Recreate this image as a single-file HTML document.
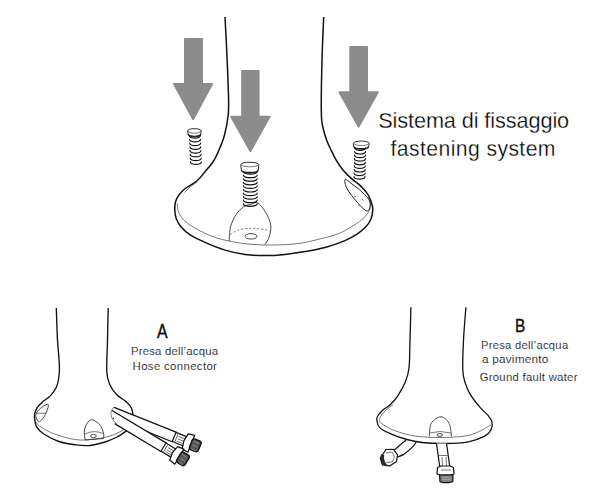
<!DOCTYPE html>
<html><head><meta charset="utf-8"><style>
html,body{margin:0;padding:0;background:#fff;}
body{width:600px;height:495px;overflow:hidden;position:relative;}
svg{position:absolute;left:0;top:0;}
.ol{fill:none;stroke:#111;stroke-width:1.5;stroke-linecap:butt;stroke-linejoin:round;}
.tn{fill:none;stroke:#555;stroke-width:0.8;}
.tn2{fill:none;stroke:#333;stroke-width:0.9;}
.ds{fill:none;stroke:#555;stroke-width:0.8;stroke-dasharray:2 2;}
.ar{fill:#8c8c8c;stroke:#8c8c8c;stroke-width:2;stroke-linejoin:round;}
.sc{fill:#fff;stroke:#222;stroke-width:0.95;}
.th{fill:none;stroke:#111;stroke-width:1.2;stroke-linecap:round;}
.hs{fill:#fff;stroke:#111;stroke-width:1.2;stroke-linejoin:round;}
.hl{fill:none;stroke:#111;stroke-width:1.2;stroke-linecap:round;}
.t{position:absolute;transform-origin:0 0;font-family:"Liberation Sans",sans-serif;color:#161616;white-space:nowrap;line-height:1;}
</style></head><body>
<svg width="600" height="495" viewBox="0 0 600 495">
<rect width="600" height="495" fill="#fff"/>
<path d="M225.0,17.0 C225.3,22.5 226.1,37.0 226.7,50.0 C227.3,63.0 228.2,84.2 228.5,95.0 C228.8,105.8 228.9,108.3 228.2,115.0 C227.5,121.7 226.0,129.2 224.5,135.0 C223.0,140.8 220.9,145.5 219.0,150.0 C217.1,154.5 215.2,158.6 213.0,162.0 C210.8,165.4 208.6,167.4 206.0,170.5 C203.4,173.6 200.8,177.5 197.4,180.5 C194.0,183.5 188.4,186.1 185.3,188.5 C182.2,190.9 180.5,192.8 178.9,195.0 C177.3,197.2 176.2,199.6 175.5,202.0 C174.8,204.4 174.7,207.0 174.8,209.7 C174.9,212.4 175.1,215.4 176.1,218.2 C177.1,221.0 178.5,223.9 180.9,226.7 C183.3,229.5 186.6,232.6 190.6,235.2 C194.6,237.8 199.3,239.9 205.0,242.4 C210.7,244.9 218.3,248.1 225.0,250.1 C231.7,252.1 238.3,253.5 245.0,254.4 C251.7,255.3 258.3,255.6 265.0,255.6 C271.7,255.6 278.3,255.1 285.0,254.4 C291.7,253.7 298.3,252.8 305.0,251.6 C311.7,250.4 318.3,249.3 325.0,247.5 C331.7,245.7 339.7,242.8 345.0,240.6 C350.3,238.4 353.5,236.5 357.0,234.2 C360.5,231.8 363.8,229.0 366.1,226.5 C368.4,224.0 369.8,221.8 370.9,219.2 C372.0,216.6 372.5,213.2 372.7,210.8 C372.9,208.4 372.8,207.2 372.1,204.7 C371.4,202.1 369.9,198.0 368.5,195.5 C367.1,193.0 365.6,191.3 364.0,189.5 C362.4,187.7 361.0,186.2 358.9,184.4 C356.8,182.6 353.9,180.8 351.3,178.4 C348.7,176.1 345.7,173.3 343.2,170.3 C340.7,167.3 338.2,163.6 336.2,160.2 C334.2,156.8 332.7,153.5 331.1,150.1 C329.5,146.7 328.1,144.2 326.6,140.0 C325.2,135.8 323.3,130.0 322.4,125.0 C321.5,120.0 321.4,120.8 321.3,110.0 C321.2,99.2 321.6,75.5 322.0,60.0 C322.4,44.5 323.4,24.2 323.7,17.0" class="ol"/>
<path d="M177.3,203.6 C177.5,205.0 177.3,209.3 178.5,212.1 C179.7,214.9 181.5,217.8 184.5,220.6 C187.5,223.4 192.0,226.5 196.7,229.1 C201.3,231.7 207.3,234.5 212.4,236.4 C217.5,238.3 220.7,239.3 227.0,240.6 C233.3,241.9 242.0,243.5 250.0,244.2 C258.0,244.9 266.7,245.2 275.0,245.0 C283.3,244.8 292.2,244.4 300.0,243.3 C307.8,242.2 315.3,240.1 321.7,238.5 C328.1,236.9 332.8,236.0 338.2,233.8 C343.6,231.6 349.7,227.9 353.9,225.3 C358.1,222.7 361.2,220.2 363.6,218.0 C366.0,215.8 367.4,214.0 368.5,212.0 C369.6,210.0 370.3,208.3 370.3,205.9 C370.3,203.5 368.8,198.8 368.5,197.4" class="tn"/>
<path d="M197,182 Q190,186 184.5,192.5" class="tn"/>
<path d="M345.0,179.4 C344.2,180.2 345.2,185.1 347.2,188.9 C349.2,192.7 353.9,198.5 357.2,202.2 C360.5,205.9 365.0,211.1 367.2,211.1 C369.4,211.1 371.1,205.2 370.2,202.0 C369.3,198.8 365.0,195.0 362.0,192.0 C359.0,189.0 354.8,186.1 352.0,184.0 C349.2,181.9 345.8,178.6 345.0,179.4Z" fill="none" stroke="#222" stroke-width="1"/>
<path d="M354,196 L356,197 M362,199 L364,201 M358,205 L361,207" class="ds"/>
<path d="M229.2,241.0 C229.4,238.6 229.5,230.8 230.7,226.4 C231.9,222.0 234.0,217.7 236.2,214.4 C238.4,211.1 241.4,208.3 243.8,206.7 C246.2,205.0 248.1,205.1 250.5,204.5 C252.9,203.9 255.3,201.3 258.0,203.0 C260.7,204.7 264.7,210.6 266.8,214.4 C268.9,218.2 270.4,222.2 270.8,226.0 C271.2,229.8 270.0,234.2 269.0,237.3 C268.0,240.4 265.7,243.3 265.0,244.5" class="tn2"/>
<path d="M230.5,234.5 C236,230 243,228.3 250,228.3 C258,228.3 264,229 269.5,231" class="ds"/>
<ellipse cx="251" cy="236.3" rx="6" ry="2.7" class="tn2"/>
<path d="M185.0,39.0 L202.0,39.0 L202.0,84.0 L212.1,84.0 L193.1,118.9 L174.0,84.0 L185.0,84.0 Z" class="ar"/>
<path d="M242.2,71.0 L258.6,71.0 L258.6,116.8 L269.6,116.8 L250.4,150.9 L231.2,116.8 L242.2,116.8 Z" class="ar"/>
<path d="M350.3,47.0 L367.0,47.0 L367.0,92.2 L377.8,92.2 L358.6,126.6 L339.5,92.2 L350.3,92.2 Z" class="ar"/>
<path d="M187.6,131.0 C187.6,127.9 201.2,127.9 201.2,131.0 L200.6,134.6 C200.6,137.7 188.2,137.7 188.2,134.6 Z" class="sc"/>
<path d="M188.1,131.0 C188.6,133.9 200.2,133.9 200.7,131.0" class="tn"/>
<path d="M188.4,134.1 C188.6,137.0 200.2,137.0 200.4,134.1" fill="none" stroke="#111" stroke-width="1.1"/>
<path d="M189.3,135.5 C189.2,139.0 200.5,139.0 200.3,135.5" class="th"/>
<path d="M189.5,139.3 C189.3,142.7 200.7,142.7 200.5,139.3" class="th"/>
<path d="M189.6,143.1 C189.4,146.5 200.8,146.5 200.6,143.1" class="th"/>
<path d="M189.8,146.8 C189.6,150.2 201.0,150.2 200.8,146.8" class="th"/>
<path d="M189.9,150.6 C189.8,154.0 201.1,154.0 200.9,150.6" class="th"/>
<path d="M190.1,154.4 C189.9,157.8 201.3,157.8 201.1,154.4" class="th"/>
<path d="M190.2,158.1 C190.1,161.5 201.4,161.5 201.2,158.1" class="th"/>
<path d="M190.4,161.9 C190.2,165.3 201.6,165.3 201.4,161.9" class="th"/>
<path d="M240.8,164.6 C240.8,161.5 258.8,161.5 258.8,164.6 L258.2,170.7 C258.2,173.8 241.4,173.8 241.4,170.7 Z" class="sc"/>
<path d="M241.3,164.6 C241.8,167.5 257.8,167.5 258.3,164.6" class="tn"/>
<path d="M241.6,170.2 C241.8,173.1 257.8,173.1 258.0,170.2" fill="none" stroke="#111" stroke-width="1.1"/>
<path d="M243.4,171.6 C243.2,174.9 257.4,174.9 257.2,171.6" class="th"/>
<path d="M243.4,175.2 C243.2,178.5 257.4,178.5 257.2,175.2" class="th"/>
<path d="M243.4,178.8 C243.2,182.0 257.4,182.0 257.2,178.8" class="th"/>
<path d="M243.4,182.3 C243.2,185.6 257.4,185.6 257.2,182.3" class="th"/>
<path d="M243.4,185.9 C243.2,189.2 257.4,189.2 257.2,185.9" class="th"/>
<path d="M243.4,189.5 C243.2,192.8 257.4,192.8 257.2,189.5" class="th"/>
<path d="M243.4,193.1 C243.2,196.4 257.4,196.4 257.2,193.1" class="th"/>
<path d="M243.4,196.7 C243.2,199.9 257.4,199.9 257.2,196.7" class="th"/>
<path d="M243.4,200.2 C243.2,203.5 257.4,203.5 257.2,200.2" class="th"/>
<path d="M243.4,203.8 C243.2,207.1 257.4,207.1 257.2,203.8" class="th"/>
<path d="M353.3,143.4 C353.3,140.3 369.2,140.3 369.2,143.4 L368.6,147.0 C368.6,150.1 353.9,150.1 353.9,147.0 Z" class="sc"/>
<path d="M353.8,143.4 C354.3,146.3 368.2,146.3 368.7,143.4" class="tn"/>
<path d="M354.1,146.5 C354.3,149.4 368.2,149.4 368.4,146.5" fill="none" stroke="#111" stroke-width="1.1"/>
<path d="M354.7,147.9 C354.5,151.2 365.9,151.2 365.7,147.9" class="th"/>
<path d="M354.6,151.5 C354.4,154.8 365.8,154.8 365.6,151.5" class="th"/>
<path d="M354.5,155.1 C354.3,158.4 365.7,158.4 365.5,155.1" class="th"/>
<path d="M354.4,158.7 C354.2,162.0 365.6,162.0 365.4,158.7" class="th"/>
<path d="M354.4,162.3 C354.2,165.6 365.6,165.6 365.4,162.3" class="th"/>
<path d="M354.3,165.9 C354.1,169.2 365.5,169.2 365.3,165.9" class="th"/>
<path d="M354.2,169.5 C354.0,172.8 365.4,172.8 365.2,169.5" class="th"/>
<path d="M354.1,173.1 C353.9,176.4 365.3,176.4 365.1,173.1" class="th"/>
<path d="M354.0,176.7 C353.8,180.0 365.2,180.0 365.0,176.7" class="th"/>
<path d="M56.3,308.0 C56.5,313.3 57.0,330.5 57.5,340.0 C58.0,349.5 59.2,358.8 59.4,365.0 C59.6,371.2 59.4,373.3 58.9,377.0 C58.4,380.7 57.8,384.2 56.4,387.3 C55.0,390.4 52.4,393.6 50.3,395.9 C48.1,398.2 45.6,399.2 43.5,401.1 C41.4,403.0 38.9,405.1 37.5,407.1 C36.1,409.1 35.4,411.2 34.9,413.1 C34.4,415.0 34.2,416.0 34.5,418.3 C34.8,420.6 35.1,424.3 36.6,426.9 C38.1,429.5 39.8,431.3 43.5,433.7 C47.2,436.1 53.5,439.6 58.9,441.5 C64.3,443.4 70.9,444.2 76.1,444.9 C81.3,445.6 85.2,446.0 90.0,445.5 C94.8,445.0 100.5,443.4 105.0,442.0 C109.5,440.6 113.3,438.9 117.0,437.0 C120.7,435.1 125.3,431.6 127.0,430.5" class="ol" style="stroke-width:1.35"/>
<path d="M108.2,308.0 C108.1,313.3 107.7,329.3 107.5,340.0 C107.3,350.7 106.4,364.5 106.8,372.0 C107.2,379.5 108.3,381.2 110.0,385.0 C111.7,388.8 114.0,391.9 116.8,394.7 C119.5,397.5 124.1,399.8 126.5,402.0 C128.9,404.2 130.3,405.7 131.4,408.0 C132.5,410.3 132.9,414.7 133.2,416.0" class="ol" style="stroke-width:1.35"/>
<path d="M35.0,418.0 C35.5,419.2 35.2,422.5 38.3,425.1 C41.4,427.7 47.5,431.3 53.8,433.7 C60.1,436.1 69.2,438.8 76.1,439.7 C83.0,440.6 89.3,439.6 95.0,439.0 C100.7,438.4 105.3,437.5 110.0,436.0 C114.7,434.5 119.2,432.3 123.0,430.0 C126.8,427.7 131.3,423.3 133.0,422.0" class="tn"/>
<path d="M48.3,404.5 C49.0,405.6 46.7,411.9 45.2,414.8 C43.7,417.7 40.8,421.7 39.2,421.7 C37.6,421.7 35.4,417.1 35.7,414.8 C36.0,412.5 38.8,409.7 40.9,408.0 C43.0,406.3 47.6,403.4 48.3,404.5Z" class="tn2"/>
<path d="M36,413.2 L46.5,413.2" class="tn"/>
<path d="M85.0,440.0 C84.9,438.3 84.0,433.0 84.5,430.0 C85.0,427.0 86.6,423.7 88.0,422.0 C89.4,420.3 91.0,419.5 93.0,420.0 C95.0,420.5 98.2,422.8 100.0,425.0 C101.8,427.2 102.9,430.8 103.5,433.0 C104.1,435.2 103.5,437.6 103.5,438.5" class="tn2"/>
<path d="M85,434 Q94,429.5 103,433.5" class="tn"/>
<path d="M85,440 L103.5,438.5" class="tn2"/>
<ellipse cx="93.5" cy="436" rx="2.8" ry="1.6" class="tn2"/>
<g transform="translate(113.3,412.6) rotate(21.80)">
<path d="M-1.2,-5.2 L65.5,-5.2 L65.5,5.2 L2.0,5.2 Z" fill="#fff" stroke="none"/>
<path d="M-1.2,-5.2 L65.5,-5.2 M2.0,5.2 L65.5,5.2" class="hl"/>
<rect x="65.5" y="-4.9" width="12.0" height="9.9" class="hs"/>
<path d="M68.0,-4.9 L68.0,4.9" class="tn"/>
<path d="M69.5,-2.1 L76.5,-2.1" class="tn"/>
<path d="M69.5,0.5 L76.5,0.5" class="tn"/>
<path d="M69.5,2.9 L76.5,2.9" class="tn"/>
<path d="M77.5,-8.1 L84.0,-9.1 L84.0,9.1 L77.5,8.1 L76.0,0.0 L77.5,-8.1 Z" class="hs"/>
<rect x="83.5" y="-5.8" width="9.5" height="11.5" rx="2.5" fill="#555" stroke="#111" stroke-width="1.4"/>
<path d="M85.5,-3.4 L91.0,-2.9" stroke="#999" stroke-width="0.7"/>
<path d="M85.5,0.6 L91.0,1.1" stroke="#999" stroke-width="0.7"/>
<path d="M85.5,4.6 L91.0,5.1" stroke="#999" stroke-width="0.7"/>
</g>
<g transform="translate(114.6,417.8) rotate(31.00)">
<path d="M-5.5,-5.0 L57.0,-5.0 L57.0,5.0 L3.5,5.0 Z" fill="#fff" stroke="none"/>
<path d="M-5.5,-5.0 L57.0,-5.0 M3.5,5.0 L57.0,5.0" class="hl"/>
<rect x="57.0" y="-4.8" width="12.0" height="9.5" class="hs"/>
<path d="M59.5,-4.8 L59.5,4.8" class="tn"/>
<path d="M61.0,-2.0 L68.0,-2.0" class="tn"/>
<path d="M61.0,0.5 L68.0,0.5" class="tn"/>
<path d="M61.0,2.8 L68.0,2.8" class="tn"/>
<path d="M69.0,-7.8 L75.5,-8.8 L75.5,8.8 L69.0,7.8 L67.5,0.0 L69.0,-7.8 Z" class="hs"/>
<rect x="75.0" y="-6.0" width="9.5" height="12.0" rx="2.5" fill="#555" stroke="#111" stroke-width="1.4"/>
<path d="M77.0,-3.6 L82.5,-3.1" stroke="#999" stroke-width="0.7"/>
<path d="M77.0,0.6 L82.5,1.1" stroke="#999" stroke-width="0.7"/>
<path d="M77.0,4.8 L82.5,5.3" stroke="#999" stroke-width="0.7"/>
</g>
<path d="M114,407.3 C111.5,409.5 110.5,412.5 111,414.5 C111.5,418 113.5,422 117.1,424.2" fill="none" stroke="#666" stroke-width="0.8"/>
<path d="M410.9,307.3 C410.8,312.8 410.3,329.9 410.0,340.0 C409.7,350.1 409.8,361.0 409.0,368.0 C408.2,375.0 407.2,377.5 405.3,382.1 C403.4,386.7 400.3,392.0 397.8,395.8 C395.3,399.6 392.7,402.4 390.2,404.8 C387.7,407.2 384.6,408.4 382.6,410.2 C380.6,412.0 379.0,413.9 378.0,415.5 C377.0,417.1 376.5,418.0 376.8,420.0 C377.1,422.0 377.4,425.3 379.6,427.6 C381.8,429.9 385.7,431.6 390.2,433.6 C394.7,435.6 401.5,438.0 406.8,439.5 C412.1,441.0 415.8,441.8 422.0,442.5 C428.2,443.2 436.2,443.6 444.0,443.5 C451.8,443.4 461.7,443.0 468.5,441.8 C475.3,440.6 480.8,438.2 484.6,436.2 C488.4,434.2 489.9,432.2 491.1,429.8 C492.3,427.4 492.4,424.1 491.9,421.7 C491.4,419.3 489.9,417.6 487.9,415.2 C485.9,412.8 482.8,410.7 479.8,407.2 C476.8,403.7 472.5,398.2 470.1,394.2 C467.7,390.1 466.4,386.9 465.2,382.9 C464.0,378.9 463.1,377.1 462.8,370.0 C462.5,362.9 463.0,350.4 463.5,340.0 C464.0,329.6 465.5,312.8 465.9,307.3" class="ol" style="stroke-width:1.3"/>
<path d="M379.6,418.5 C379.8,419.2 378.5,421.0 381.0,423.0 C383.5,425.0 389.0,428.4 394.7,430.6 C400.4,432.8 407.4,434.9 415.0,436.0 C422.6,437.1 431.7,437.5 440.0,437.5 C448.3,437.5 458.7,436.9 465.0,436.0 C471.3,435.1 473.6,433.9 478.0,432.0 C482.4,430.1 488.9,426.1 491.1,424.9" class="tn"/>
<path d="M393.2,404.8 Q384,410 379.6,418.5" class="tn"/>
<path d="M429.3,436.5 C429.6,434.3 429.4,426.6 431.3,423.3 C433.2,420.0 438.0,416.8 441.0,416.8 C444.0,416.8 447.4,420.0 449.1,423.3 C450.9,426.6 451.1,434.3 451.5,436.5" class="tn2"/>
<path d="M429.5,433 Q440,430 451,433" class="tn"/>
<ellipse cx="439.8" cy="435" rx="2.8" ry="1.4" class="tn2"/>
<path d="M405.8,440.6 C402,443 398,447 393.8,450.4 L397.5,457 C402,455 407,452 410.3,450 C413,447 415,444.5 415.9,442.5 Z" fill="#fff" stroke="none"/>
<path d="M405.8,440.6 C402,443 398,447 393.8,450.4 M415.9,442.5 C414,446 411,449 404.3,454.1 C401,455.8 399,456.5 397.5,457" class="hl"/>
<path d="M386,449.5 L393.5,449.3 L397.5,455 L396.5,461.5 L390,465.8 L382.5,465 L380.3,458 Z" class="hs"/>
<path d="M381.5,455 C380,460 381.5,464 387,466 C384,463 383,459 383.5,455.5 Z" fill="#333" stroke="#222" stroke-width="1.2"/>
<path d="M386,453 L392,452 L394.5,457 L392,462 L386,462.5" class="tn"/>
<path d="M436.6,443.5 L439.7,466.4 L449.7,466.4 L446.7,443.5 Z" fill="#fff" stroke="none"/>
<path d="M436.6,444.3 L439.7,466.4 M446.7,444.3 L449.7,466.4" class="hl"/>
<path d="M439,455.5 L448.3,455.5 M442,457 L442.5,466 M446,457 L446.5,466" class="tn"/>
<path d="M437.5,467.5 L441,466 L450,466 L453.5,467.5 L454,474 L450.5,475 L440,475 L437,474 Z" class="hs"/>
<path d="M441,470 L451,470" class="tn"/>
<path d="M439.5,475 L453,475 L452.8,481.5 L449,482.6 L443,482.6 L440,481.5 Z" fill="#7a7a7a" stroke="#111" stroke-width="1.2"/>
<path d="M442,477.3 L451,477.3 M442,479.8 L451,479.8" stroke="#bbb" stroke-width="0.8"/>
</svg>
<div class="t" style="left:378.2px;top:110.2px;font-size:21.7px;letter-spacing:-0.1px;-webkit-text-stroke:0.3px #fff;color:#000">Sistema di fissaggio</div>
<div class="t" style="left:390.59999999999997px;top:138.3px;font-size:21.2px;letter-spacing:0.393px;-webkit-text-stroke:0.3px #fff;color:#000">fastening system</div>
<div class="t" style="left:157.4px;top:322.1px;font-size:19.5px;letter-spacing:0px;transform:scaleX(0.815);-webkit-text-stroke:0.4px #111;color:#111">A</div>
<div class="t" style="left:130.9px;top:346.4px;font-size:11.4px;letter-spacing:0.2px;-webkit-text-stroke:0.12px #fff;color:#111">Presa dell&#8217;acqua</div>
<div class="t" style="left:132.6px;top:360.6px;font-size:11.4px;letter-spacing:0.346px;-webkit-text-stroke:0.12px #fff;color:#111">Hose connector</div>
<div class="t" style="left:515.1px;top:316.6px;font-size:18.8px;letter-spacing:0px;transform:scaleX(0.818);-webkit-text-stroke:0.4px #111;color:#111">B</div>
<div class="t" style="left:480.9px;top:339.8px;font-size:11.2px;letter-spacing:0.3px;-webkit-text-stroke:0.12px #fff;color:#111">Presa dell&#8217;acqua</div>
<div class="t" style="left:481.9px;top:354.0px;font-size:11.8px;letter-spacing:0.21px;-webkit-text-stroke:0.12px #fff;color:#111">a pavimento</div>
<div class="t" style="left:479.7px;top:371.5px;font-size:11.3px;letter-spacing:0.282px;-webkit-text-stroke:0.12px #fff;color:#111">Ground fault water</div>

</body></html>
